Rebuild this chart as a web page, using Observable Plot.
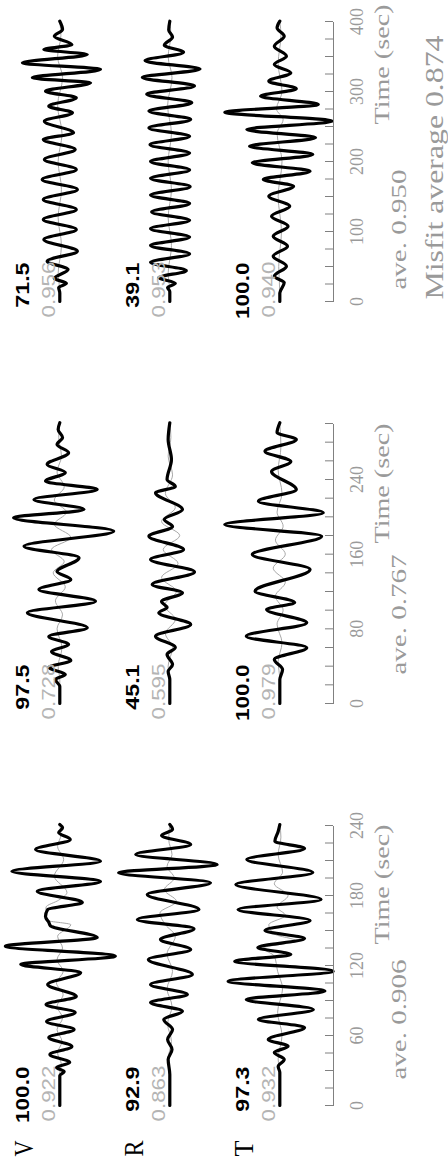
<!DOCTYPE html>
<html>
<head>
<meta charset="utf-8">
<script src="https://cdn.jsdelivr.net/npm/d3@7"></script>
<script src="https://cdn.jsdelivr.net/npm/@observablehq/plot@0.6"></script>
<style>
  html, body { margin: 0; padding: 0; background: #fff; }
  body { width: 448px; height: 1163px; overflow: hidden; position: relative; }
  /* the figure is laid out landscape and turned a quarter turn counter-clockwise */
  #sheet { position: absolute; left: 0; top: 0; width: 1163px; height: 448px;
           transform-origin: 0 0; transform: translate(0, 1163px) rotate(-90deg); background: #fff; }
  .panel { position: absolute; top: 0; height: 448px; }
  .panel svg { display: block; overflow: visible; max-width: none !important; background: transparent !important; }
</style>
</head>
<body>
<div id="sheet"></div>
<script>
// ---------------- data ----------------
const components = ["V", "R", "T"];
const timeMax = [240, 300, 400];
const tickLabels = [[0, 60, 120, 180, 240], [0, 80, 160, 240], [0, 100, 200, 300, 400]];
const minorStep = [15, 20, 25];
const maxAmp = [["100.0", "92.9", "97.3"], ["97.5", "45.1", "100.0"], ["71.5", "39.1", "100.0"]];
const corr = [["0.922", "0.863", "0.932"], ["0.728", "0.595", "0.979"], ["0.956", "0.953", "0.940"]];
const averages = ["0.906", "0.767", "0.950"];
const misfitAverage = "0.874";

// waveforms: [time (s), normalised amplitude]; obs = bold trace, syn = thin trace
const obsV1 = [[0,0],[25.7,0],[29,-0.08],[32.6,0.06],[36.9,-0.18],[43.7,0.18],[50.6,-0.22],[58.3,0.2],[65.1,-0.26],[72,0.24],[79.7,-0.28],[86.6,0.25],[93.4,-0.3],[103.7,0.22],[114,-0.38],[120.9,0.71],[128,-1.01],[136.5,0.99],[144,-0.68],[154,0.17],[157,0.2],[162,0.26],[168,0.22],[174,-0.41],[183.7,0.41],[192,-0.74],[200.8,0.87],[209.4,-0.74],[219.4,0.44],[228,-0.19],[234,0.02],[238,-0.05],[240.8,0]];
const synV1 = [[0,0],[28,0],[35,-0.03],[45,0.04],[55,-0.04],[65,0.05],[75,-0.05],[85,0.05],[95,-0.06],[105,0.06],[115,-0.06],[125,0.05],[135,-0.05],[145,0.04],[155,-0.2],[159,0.26],[170,0.25],[176,0.02],[182.6,-0.13],[196.6,0.1],[210.9,-0.07],[222,0.04],[232,-0.02],[240.8,0]];
const obsR1 = [[0,0],[26.6,0],[39.4,0.03],[48,-0.04],[56.6,0.04],[65.1,-0.05],[73.7,0.11],[80.8,-0.23],[88.3,0.35],[95.1,-0.32],[103.7,0.35],[112.3,-0.41],[125.1,0.39],[133.7,-0.38],[142.3,0.17],[151.5,-0.44],[159.4,0.59],[168,-0.53],[180.9,0.41],[190.9,-0.74],[199.5,0.93],[206.6,-0.86],[215.1,0.62],[223.7,-0.38],[231.4,0.15],[236.6,-0.05],[240.8,0]];
const synR1 = [[0,0],[28,0],[40,0.03],[55,-0.03],[70,0.04],[85,-0.04],[100,0.05],[115,-0.05],[130,0.05],[145,-0.1],[155,0.08],[165,0.18],[175,-0.12],[185,0.1],[195,-0.08],[205,0.05],[215,-0.04],[228,0.02],[240.8,0]];
const obsT1 = [[0,0],[28.3,0],[33.4,0.03],[39.4,-0.08],[45.4,0.1],[50.8,-0.15],[56.6,0.21],[66.9,-0.45],[73.7,0.39],[82.3,-0.61],[90.9,0.61],[98,-0.82],[106.5,0.94],[115.1,-0.97],[123.7,0.82],[129.4,-0.2],[135.4,0.4],[143.1,-0.45],[150,0.27],[158.6,-0.55],[168,0.76],[176.6,-0.75],[189.4,0.8],[199.7,-0.6],[210.9,0.6],[220.3,-0.45],[226.5,0.09],[234.9,0.03],[240.8,0]];
const synT1 = [[0,0],[28,0],[40,0.03],[60,-0.04],[80,0.04],[100,-0.05],[115,0.04],[128,0.1],[135,0.3],[141,-0.3],[147,0.1],[155,0.2],[163,-0.1],[170,0.05],[180,-0.15],[190,0.1],[200,-0.05],[215,0.03],[230,-0.02],[240.8,0]];

const obsV2 = [[0,0],[18.2,0],[25.7,0.08],[31,-0.1],[38.6,0.2],[46,-0.2],[55.7,0.15],[63.2,-0.16],[71.8,0.2],[81.1,-0.5],[97.2,0.59],[109.6,-0.65],[122.1,0.38],[132.9,-0.2],[141.4,0.05],[156.1,-0.35],[168.5,0.65],[184.6,-0.98],[199,0.84],[207.9,-0.44],[218.6,0.47],[229.3,-0.68],[238.2,0.26],[247.5,-0.1],[256.1,0.23],[268.6,-0.16],[277.5,0.05],[285,-0.05],[293.6,0.03],[300.8,0]];
const synV2 = [[0,0],[25,0],[40,0.03],[60,-0.04],[80,0.05],[95,-0.05],[110,0.08],[125,-0.1],[140,0.12],[152,-0.08],[165,0.15],[178,-0.2],[192,0.1],[205,-0.12],[218,0.1],[232,-0.08],[248,0.05],[265,-0.03],[285,0.02],[300.8,0]];
const obsR2 = [[0,0],[25.7,0],[34.3,0.03],[41.8,-0.05],[52.5,0.05],[60,-0.1],[72.1,0.26],[84.6,-0.38],[97.2,0.2],[102.9,0.05],[109.3,0.15],[118.6,-0.23],[127.5,0.32],[140.9,-0.45],[154.3,0.35],[165,-0.25],[179.3,0.38],[189.6,-0.05],[197.1,0.1],[207.9,-0.23],[225.8,0.26],[232.5,-0.1],[240,0.05],[261.4,-0.03],[282.9,0.03],[300.8,0]];
const synR2 = [[0,0],[25,0],[40,0.03],[60,-0.05],[75,0.08],[90,-0.1],[105,0.1],[120,-0.12],[135,0.15],[150,-0.15],[165,0.12],[180,-0.18],[195,0.15],[210,-0.1],[225,0.08],[245,-0.05],[265,0.03],[285,-0.02],[300.8,0]];
const obsT2 = [[0,0],[25.7,0],[36.4,-0.05],[47.1,0.1],[59.7,-0.49],[72.1,0.61],[86.5,-0.49],[100.7,0.24],[108.2,-0.27],[120.3,0.45],[143.6,-0.55],[159.6,0.5],[179.3,-0.76],[191.8,1.0],[204.3,-0.79],[216.8,0.39],[229.3,-0.3],[248.6,0.15],[259.3,-0.2],[270.3,0.27],[282.9,-0.3],[290.4,0.05],[300.8,0]];
const synT2 = [[0,0],[25,0],[45,0.03],[65,-0.04],[85,0.05],[100,-0.06],[115,0.08],[130,-0.1],[145,0.12],[160,-0.1],[175,0.08],[190,-0.06],[205,0.05],[225,-0.04],[250,0.03],[275,-0.02],[300.8,0]];

const obsV3 = [[0,0],[12,0],[20,0.02],[26,-0.12],[33,0.1],[45.7,-0.15],[57.6,0.23],[71.9,-0.32],[88.6,0.29],[102.9,-0.3],[117.1,0.3],[131.4,-0.3],[145.7,0.3],[160,-0.32],[174.3,0.32],[188.6,-0.3],[202.9,0.28],[217.1,-0.28],[231.4,0.3],[241,-0.25],[257.6,0.28],[269.6,-0.23],[279,0.2],[291,-0.3],[300.4,0.26],[312.4,-0.56],[319.6,0.5],[331.4,-0.74],[341,0.68],[352.9,-0.5],[360,0.29],[367,-0.22],[379,0.1],[388.6,-0.05],[400.4,0]];
const synV3 = [[0,0],[14,0],[40,0.03],[80,-0.03],[120,0.03],[160,-0.03],[200,0.03],[240,-0.04],[280,0.04],[320,-0.05],[350,0.04],[380,-0.02],[400.4,0]];
const obsR3 = [[0,0],[14,0],[20,0.04],[26,-0.1],[34,0.2],[44,-0.3],[56,0.35],[68,-0.36],[80,0.35],[92,-0.36],[104,0.35],[116,-0.36],[128,0.33],[140,-0.36],[152,0.35],[164,-0.37],[176,0.35],[188,-0.36],[200,0.35],[212,-0.36],[224,0.36],[236,-0.36],[248,0.38],[260,-0.38],[272,0.38],[284,-0.4],[296,0.42],[308,-0.45],[320,0.5],[332,-0.55],[344,0.45],[356,-0.25],[366,0.1],[378,-0.05],[388,0.02],[400.4,0]];
const synR3 = [[0,0],[14,0],[40,0.03],[80,-0.03],[120,0.03],[160,-0.03],[200,0.03],[240,-0.03],[280,0.04],[320,-0.04],[350,0.03],[380,-0.02],[400.4,0]];
const obsT3 = [[0,0],[12,0],[27,-0.08],[36,0.1],[50.5,-0.12],[64.8,0.12],[79,-0.14],[93.3,0.12],[107.6,-0.15],[121.9,0.15],[136,-0.18],[150.4,0.2],[164.7,-0.25],[174.3,0.3],[186.1,-0.55],[198.1,0.5],[210,-0.6],[221.9,0.55],[233.9,-0.65],[245.7,0.6],[257.6,-0.95],[270.4,1.0],[281.4,-0.7],[293.3,0.35],[303.9,-0.3],[314.7,0.2],[326.7,-0.2],[338.6,0.1],[350.4,-0.12],[364.7,0.1],[379,-0.08],[391,0.05],[400.4,0]];
const synT3 = [[0,0],[12,0],[50,0.02],[100,-0.03],[150,0.03],[200,-0.04],[240,0.05],[260,-0.06],[275,0.06],[300,-0.04],[340,0.03],[380,-0.02],[400.4,0]];

const obsTraces = [[obsV1, obsR1, obsT1], [obsV2, obsR2, obsT2], [obsV3, obsR3, obsT3]];
const synTraces = [[synV1, synR1, synT1], [synV2, synR2, synT2], [synV3, synR3, synT3]];

// ---------------- layout & style ----------------
const panelLeft = [0, 402, 804];
const panelWidth = [402, 402, 359];
const plotLeft = 57, plotWidth = 280;
const unit = 55;                 // px per amplitude unit
const yTop = 1.078, yBottom = -4.976;
const rowOffset = [0, -2, -4];
const grey = "#9a9a9a";
const aveShift = [26, 29, 12];
const titleShift = [1, 0, 17];
// per-character advance (px) each kind of label is stretched to
const advance = {"amp-label": 11.3, "corr-label": 11.2, "comp-label": 16, "tick-label": 9, "time-title": 12, "ave-label": 12, "misfit-label": 13.2};

function build(p) {
  const tmax = timeMax[p];
  const minor = d3.range(0, tmax + 0.001, minorStep[p]);
  const marks = [];
  for (let r = 0; r < 3; r++) {
    const o = rowOffset[r];
    marks.push(Plot.line(synTraces[p][r], {x: d => d[0], y: d => o + d[1], stroke: "#a8a8a8", strokeWidth: 1, curve: "monotone-x"}));
    marks.push(Plot.line(obsTraces[p][r], {x: d => d[0], y: d => o + d[1], stroke: "#000", strokeWidth: 3.2, strokeLinejoin: "round", curve: "monotone-x"}));
    marks.push(Plot.text([maxAmp[p][r]], {x: () => 0, y: () => o, text: d => d, dx: 39, dy: -31, textAnchor: "end", lineAnchor: "bottom",
      fontFamily: "Liberation Sans", fontWeight: "bold", fontSize: 18, fill: "#000", ariaDescription: "amp-label"}));
    marks.push(Plot.text([corr[p][r]], {x: () => 0, y: () => o, text: d => d, dx: 40, dy: -5, textAnchor: "end", lineAnchor: "bottom",
      fontFamily: "Liberation Sans", fontSize: 18, fill: "#b4b4b4", ariaDescription: "corr-label"}));
    if (p === 0) {
      marks.push(Plot.text([components[r]], {x: () => 0, y: () => o, text: d => d, dx: -43, dy: -27, textAnchor: "middle", lineAnchor: "bottom",
        fontFamily: "Liberation Serif", fontSize: 27, fill: "#000", ariaDescription: "comp-label"}));
    }
  }
  // time axis
  marks.push(Plot.ruleY([yBottom], {x1: () => 0, x2: () => tmax, y: d => d, stroke: "#808080", strokeWidth: 1}));
  marks.push(Plot.ruleX(minor, {x: d => d, y1: () => yBottom, y2: () => yBottom + 8 / unit, stroke: "#808080", strokeWidth: 1}));
  marks.push(Plot.text(tickLabels[p], {x: d => d, text: d => String(d), frameAnchor: "bottom", dy: 29, lineAnchor: "bottom",
    fontFamily: "Liberation Serif", fontSize: 19, fill: grey, ariaDescription: "tick-label"}));
  marks.push(Plot.text(["Time (sec)"], {x: () => tmax, text: d => d, frameAnchor: "bottom", dy: 55, textAnchor: "end", dx: titleShift[p], lineAnchor: "bottom",
    fontFamily: "Liberation Serif", fontSize: 21, fill: grey, ariaDescription: "time-title"}));
  marks.push(Plot.text(["ave. " + averages[p]], {x: () => 0, text: d => d, frameAnchor: "bottom", dy: 72, textAnchor: "start", dx: aveShift[p], lineAnchor: "bottom",
    fontFamily: "Liberation Serif", fontSize: 20, fill: grey, ariaDescription: "ave-label"}));
  if (p === 2) {
    marks.push(Plot.text(["Misfit average " + misfitAverage], {x: () => 0, text: d => d, frameAnchor: "bottom", dy: 109, textAnchor: "start", dx: 2, lineAnchor: "bottom",
      fontFamily: "Liberation Serif", fontSize: 25, fill: grey, ariaDescription: "misfit-label"}));
  }
  const svg = Plot.plot({
    width: panelWidth[p], height: 448,
    marginLeft: plotLeft, marginRight: panelWidth[p] - plotLeft - plotWidth, marginTop: 0, marginBottom: 448 - 333,
    x: {domain: [0, tmax], axis: null},
    y: {domain: [yBottom, yTop], axis: null},
    marks
  });
  // stretch label glyphs to the set advance per character
  for (const [label, adv] of Object.entries(advance)) {
    svg.querySelectorAll(`g[aria-description="${label}"] text`).forEach(t => {
      t.setAttribute("textLength", adv * t.textContent.length);
      t.setAttribute("lengthAdjust", "spacingAndGlyphs");
    });
  }
  return svg;
}

const sheet = document.getElementById("sheet");
for (let p = 0; p < 3; p++) {
  const div = document.createElement("div");
  div.className = "panel";
  div.style.left = panelLeft[p] + "px";
  div.style.width = panelWidth[p] + "px";
  div.appendChild(build(p));
  sheet.appendChild(div);
}
</script>
</body>
</html>
